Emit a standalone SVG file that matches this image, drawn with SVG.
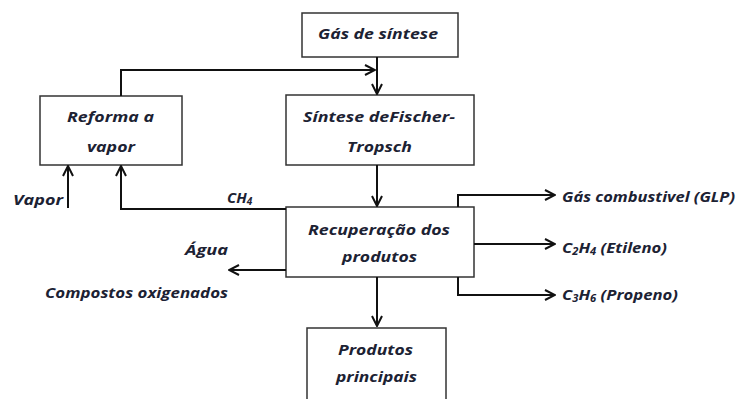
<svg xmlns="http://www.w3.org/2000/svg" width="738" height="399" viewBox="0 0 738 399">
<defs>
<marker id="arr" viewBox="0 0 12 12" refX="11" refY="6" markerWidth="12" markerHeight="12" markerUnits="userSpaceOnUse" orient="auto">
<path d="M1,1 L11,6 L1,11" fill="none" stroke="#111" stroke-width="2"/>
</marker>
<style>
.box{fill:#fff;stroke:#333;stroke-width:1.5}
.t{font-family:"Open Sans","Liberation Sans",sans-serif;font-weight:bold;font-style:italic;font-size:15px;fill:#1c2233}
.lab{font-family:"Open Sans","Liberation Sans",sans-serif;font-style:italic;font-size:14px;fill:#1c2233;font-weight:bold}
.ln{fill:none;stroke:#111;stroke-width:2}
.sub{font-size:10px}
</style>
</defs>
<rect width="738" height="399" fill="#fff"/>
<g id="gas-sintese"><rect class="box" x="302" y="13" width="156" height="44"/><text class="t" x="318" y="39" textLength="120" lengthAdjust="spacingAndGlyphs">Gás de síntese</text></g>
<g id="sintese-ft"><rect class="box" x="286" y="95" width="188" height="70"/><text class="t" x="303" y="122" textLength="152" lengthAdjust="spacingAndGlyphs">Síntese deFischer-</text><text class="t" x="347" y="152" textLength="65" lengthAdjust="spacingAndGlyphs">Tropsch</text></g>
<g id="reforma"><rect class="box" x="40" y="96" width="142" height="69"/><text class="t" x="67" y="122" textLength="87" lengthAdjust="spacingAndGlyphs">Reforma a</text><text class="t" x="87" y="152" textLength="48" lengthAdjust="spacingAndGlyphs">vapor</text></g>
<g id="recuperacao"><rect class="box" x="286" y="207" width="188" height="70"/><text class="t" x="308" y="235" textLength="142" lengthAdjust="spacingAndGlyphs">Recuperação dos</text><text class="t" x="342" y="262" textLength="75" lengthAdjust="spacingAndGlyphs">produtos</text></g>
<g id="produtos"><rect class="box" x="307" y="328" width="139" height="80"/><text class="t" x="338" y="355" textLength="75" lengthAdjust="spacingAndGlyphs">Produtos</text><text class="t" x="336" y="382" textLength="81" lengthAdjust="spacingAndGlyphs">principais</text></g>
<g id="connectors">
<path class="ln" d="M377,57 V94" marker-end="url(#arr)"/>
<path class="ln" d="M121,96 V70 H375" marker-end="url(#arr)"/>
<path class="ln" d="M377,165 V206" marker-end="url(#arr)"/>
<path class="ln" d="M68,208 V166" marker-end="url(#arr)"/>
<path class="ln" d="M286,209 H121 V166" marker-end="url(#arr)"/>
<path class="ln" d="M286,270 H229" marker-end="url(#arr)"/>
<path class="ln" d="M377,277 V326" marker-end="url(#arr)"/>
<path class="ln" d="M458,207 V195 H555" marker-end="url(#arr)"/>
<path class="ln" d="M474,244 H555" marker-end="url(#arr)"/>
<path class="ln" d="M458,277 V295 H555" marker-end="url(#arr)"/>
</g>
<g id="labels">
<text class="lab" x="13" y="205" textLength="50" lengthAdjust="spacingAndGlyphs">Vapor</text>
<text class="lab" x="227" y="203" style="font-size:15px">CH<tspan class="sub" dy="2">4</tspan></text>
<text class="lab" x="185" y="255" textLength="43" lengthAdjust="spacingAndGlyphs">Água</text>
<text class="lab" x="45" y="298" textLength="183" lengthAdjust="spacingAndGlyphs">Compostos oxigenados</text>
<text class="lab" x="562" y="202" style="font-size:15px" textLength="173" lengthAdjust="spacingAndGlyphs">Gás combustivel (GLP)</text>
<text class="lab" x="562" y="253" style="font-size:15px" textLength="105" lengthAdjust="spacingAndGlyphs">C<tspan class="sub" dy="2">2</tspan><tspan dy="-2">H</tspan><tspan class="sub" dy="2">4</tspan><tspan dy="-2"> (Etileno)</tspan></text>
<text class="lab" x="562" y="300" style="font-size:15px" textLength="116" lengthAdjust="spacingAndGlyphs">C<tspan class="sub" dy="2">3</tspan><tspan dy="-2">H</tspan><tspan class="sub" dy="2">6</tspan><tspan dy="-2"> (Propeno)</tspan></text>
</g>
</svg>
